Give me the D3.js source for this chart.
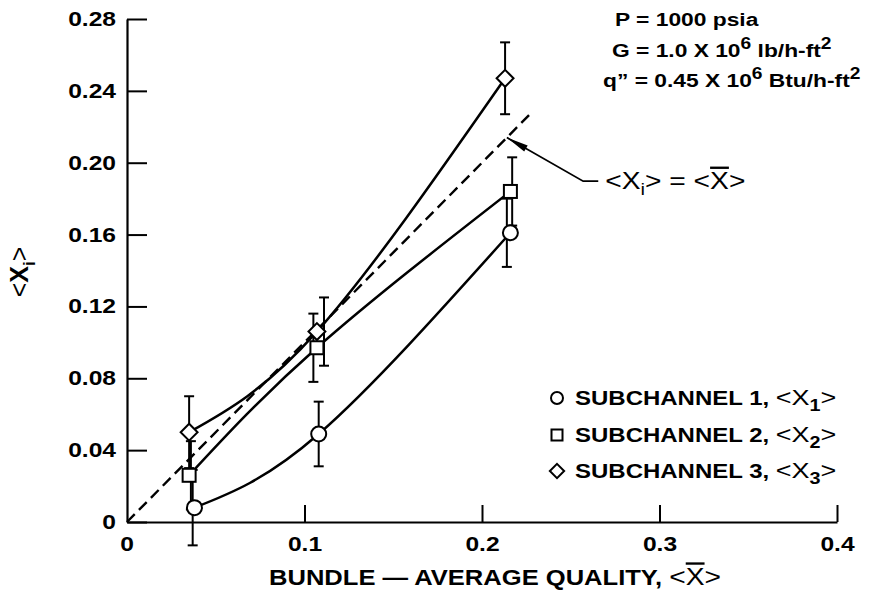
<!DOCTYPE html>
<html><head><meta charset="utf-8">
<script src="https://cdn.jsdelivr.net/npm/d3@7/dist/d3.min.js"></script>
<style>
html,body{margin:0;padding:0;background:#fff;}
svg{display:block;}
text{font-family:"Liberation Sans",Arial,Helvetica,sans-serif;fill:#000;}
</style></head>
<body>
<svg id="chart" width="878" height="601"></svg>
<script>
// ---- data ----
const xTickValues = [0, 0.1, 0.2, 0.3, 0.4];
const xTickLabels = ["0", "0.1", "0.2", "0.3", "0.4"];
const yTickValues = [0, 0.04, 0.08, 0.12, 0.16, 0.20, 0.24, 0.28];
const yTickLabels = ["0", "0.04", "0.08", "0.12", "0.16", "0.20", "0.24", "0.28"];

const seriesNames = ["SUBCHANNEL 1, ", "SUBCHANNEL 2, ", "SUBCHANNEL 3, "];
const seriesSub = ["1", "2", "3"];
const seriesSymbols = ["circle", "square", "diamond"];

const sub1X = [0.038, 0.108, 0.216];
const sub1Y = [0.008, 0.049, 0.161];
const sub1Err = [0.021, 0.018, 0.019];
const sub1ErrX = [0.037, 0.108, 0.214];

const sub2X = [0.035, 0.107, 0.216];
const sub2Y = [0.026, 0.097, 0.184];
const sub2Err = [0.019, 0.019, 0.019];
const sub2ErrX = [0.036, 0.105, 0.217];

const sub3X = [0.035, 0.107, 0.213];
const sub3Y = [0.050, 0.106, 0.247];
const sub3Err = [0.020, 0.019, 0.020];
const sub3ErrX = [0.035, 0.111, 0.213];

const identityX = [0, 0.227];   // <Xi> = <X̄> line
const arrowTipX = 0.214;
const arrowElbow = [0.257, 0.1897];
const arrowEnd = [0.2655, 0.1897];

// ---- layout ----
const SX = 1.2; // horizontal glyph stretch of the original typeface
const svg = d3.select("#chart");
const x = d3.scaleLinear().domain([0, 0.4]).range([127, 837]);
const y = d3.scaleLinear().domain([0, 0.28]).range([522, 19]);

function stext(parent, px, py, anchor, size, weight) {
  return parent.append("text")
    .attr("transform", `translate(${px},${py}) scale(${SX},1)`)
    .attr("text-anchor", anchor)
    .style("font-size", size + "px")
    .style("font-weight", weight);
}

// axes
const yAxis = d3.axisLeft(y).tickValues(yTickValues)
  .tickFormat((d, i) => yTickLabels[i]).tickSizeInner(-20).tickSizeOuter(0).tickPadding(11);
const gy = svg.append("g").attr("transform", `translate(${x(0)},0)`).call(yAxis);
const xAxis = d3.axisBottom(x).tickValues(xTickValues.slice(1))
  .tickFormat((d, i) => xTickLabels[i + 1]).tickSizeInner(-17).tickSizeOuter(0).tickPadding(14);
const gx = svg.append("g").attr("transform", `translate(0,${y(0)})`).call(xAxis);
// zero label on x axis
gx.append("g").attr("class", "tick").attr("transform", `translate(${x(xTickValues[0])},0)`)
  .append("text").attr("y", 14).attr("dy", "0.71em").attr("text-anchor", "middle").text(xTickLabels[0]);

[gx, gy].forEach(g => {
  g.attr("font-family", null).attr("font-size", null);
  g.select(".domain").attr("stroke", "#000").attr("stroke-width", 2.2);
  g.selectAll(".tick line").attr("stroke", "#000").attr("stroke-width", 2);
  g.selectAll(".tick text").style("font-size", "20.5px").style("font-weight", "bold")
    .attr("fill", "#000");
});
gy.selectAll(".tick text").attr("transform", `scale(${SX},1)`).attr("x", -11 / SX);
gx.selectAll(".tick text").attr("transform", `scale(${SX},1)`);

// identity dashed line
const lineGen = d3.line().x(d => x(d[0])).y(d => y(d[1]));
svg.append("path").datum(identityX.map(v => [v, v]))
  .attr("d", lineGen).attr("fill", "none").attr("stroke", "#000")
  .attr("stroke-width", 2.4).attr("stroke-dasharray", "11,6");

const series = [
  {x: sub1X, y: sub1Y, e: sub1Err, ex: sub1ErrX, sym: seriesSymbols[0]},
  {x: sub2X, y: sub2Y, e: sub2Err, ex: sub2ErrX, sym: seriesSymbols[1]},
  {x: sub3X, y: sub3Y, e: sub3Err, ex: sub3ErrX, sym: seriesSymbols[2]}
];

// error bars
series.forEach(s => {
  s.x.forEach((xv, i) => {
    const g = svg.append("g").attr("stroke", "#000").attr("stroke-width", 2);
    const cx = x(s.ex[i]);
    g.append("line").attr("x1", cx).attr("x2", cx).attr("y1", y(s.y[i] - s.e[i])).attr("y2", y(s.y[i] + s.e[i]));
    [s.y[i] - s.e[i], s.y[i] + s.e[i]].forEach(v => {
      g.append("line").attr("x1", cx - 5).attr("x2", cx + 5).attr("y1", y(v)).attr("y2", y(v));
    });
  });
});

// curves
const curveGen = d3.line().x(d => x(d[0])).y(d => y(d[1])).curve(d3.curveNatural);
series.forEach(s => {
  svg.append("path").datum(s.x.map((xv, i) => [xv, s.y[i]]))
    .attr("d", curveGen).attr("fill", "none").attr("stroke", "#000").attr("stroke-width", 2.5);
});

// markers
function drawSymbol(parent, type, cx, cy, size) {
  if (type === "circle") {
    parent.append("circle").attr("cx", cx).attr("cy", cy).attr("r", size)
      .attr("fill", "#fff").attr("stroke", "#000").attr("stroke-width", 2);
  } else if (type === "square") {
    parent.append("rect").attr("x", cx - size).attr("y", cy - size).attr("width", 2 * size).attr("height", 2 * size)
      .attr("fill", "#fff").attr("stroke", "#000").attr("stroke-width", 2);
  } else {
    const r = size * 1.3;
    parent.append("path").attr("d", `M${cx},${cy - r}L${cx + r},${cy}L${cx},${cy + r}L${cx - r},${cy}Z`)
      .attr("fill", "#fff").attr("stroke", "#000").attr("stroke-width", 2);
  }
}
series.forEach(s => {
  s.x.forEach((xv, i) => drawSymbol(svg, s.sym, x(xv), y(s.y[i]), s.sym === "circle" ? 7.5 : 6.5));
});

// annotation leader
const tip = [x(arrowTipX), y(arrowTipX)];
svg.append("path")
  .attr("d", `M${tip[0]},${tip[1]}L${x(arrowElbow[0])},${y(arrowElbow[1])}L${x(arrowEnd[0])},${y(arrowEnd[1])}`)
  .attr("fill", "none").attr("stroke", "#000").attr("stroke-width", 1.8);
{
  const ang = Math.atan2(y(arrowElbow[1]) - tip[1], x(arrowElbow[0]) - tip[0]);
  const L = 22, W = 3.5;
  const bx = tip[0] + L * Math.cos(ang), by = tip[1] + L * Math.sin(ang);
  const nx = -Math.sin(ang), ny = Math.cos(ang);
  svg.append("path")
    .attr("d", `M${tip[0]},${tip[1]}L${bx - nx * W},${by - ny * W}L${bx + nx * W},${by + ny * W}Z`)
    .attr("fill", "#000");
}
const ann = stext(svg, x(arrowEnd[0]) + 7, y(arrowEnd[1]) + 8, "start", 23.5, "normal");
ann.append("tspan").text("<X");
ann.append("tspan").attr("dy", 6).style("font-size", "17px").text("i");
ann.append("tspan").attr("dy", -6).text("> = <");
ann.append("tspan").style("text-decoration", "overline").text("X");
ann.append("tspan").text(">");

// header conditions
const h1 = stext(svg, 615, 26, "start", 19, "bold");
h1.text("P = 1000 psia");
const h2 = stext(svg, 612, 57, "start", 19, "bold");
h2.append("tspan").text("G = 1.0 X 10");
h2.append("tspan").attr("dy", -8).style("font-size", "16px").text("6");
h2.append("tspan").attr("dy", 8).text(" lb/h-ft");
h2.append("tspan").attr("dy", -8).style("font-size", "16px").text("2");
const h3 = stext(svg, 603, 87, "start", 19, "bold");
h3.append("tspan").text("q\u201D = 0.45 X 10");
h3.append("tspan").attr("dy", -8).style("font-size", "16px").text("6");
h3.append("tspan").attr("dy", 8).text(" Btu/h-ft");
h3.append("tspan").attr("dy", -8).style("font-size", "16px").text("2");

// legend
const legendRowsY = [398, 435, 471];
series.forEach((s, i) => {
  drawSymbol(svg, s.sym, 557, legendRowsY[i], s.sym === "circle" ? 6 : 5.5);
  const t = stext(svg, 575, legendRowsY[i] + 7, "start", 20, "bold");
  t.append("tspan").text(seriesNames[i]);
  t.append("tspan").style("font-weight", "normal").style("font-size", "22.5px").text("<X");
  t.append("tspan").attr("dy", 6).style("font-size", "16.5px").text(seriesSub[i]);
  t.append("tspan").attr("dy", -6).style("font-weight", "normal").style("font-size", "22.5px").text(">");
});

// axis titles
const xt = stext(svg, 495, 585, "middle", 21.3, "bold");
xt.append("tspan").text("BUNDLE \u2014 AVERAGE QUALITY, ");
xt.append("tspan").style("font-weight", "normal").style("font-size", "23.5px").text("<");
xt.append("tspan").style("text-decoration", "overline").style("font-weight", "normal").style("font-size", "23.5px").text("X");
xt.append("tspan").style("font-weight", "normal").style("font-size", "23.5px").text(">");

const yt = svg.append("text").attr("transform", "translate(28,272) rotate(-90)")
  .attr("text-anchor", "middle").style("font-size", "25px");
yt.append("tspan").text("<");
yt.append("tspan").style("font-weight", "bold").text("X");
yt.append("tspan").attr("dy", 7).style("font-size", "17px").style("font-weight", "bold").text("i");
yt.append("tspan").attr("dy", -7).text(">");
</script>
</body></html>
